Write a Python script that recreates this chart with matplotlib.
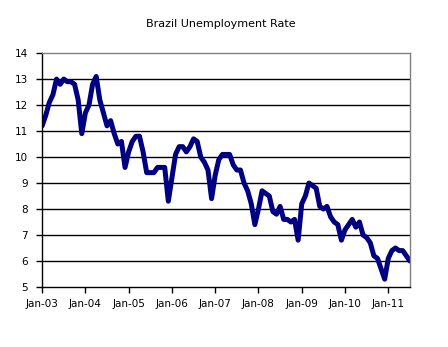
import numpy as np
import matplotlib
matplotlib.use("Agg")
from matplotlib import pyplot as plt

# monthly rate, Jan 2003 .. Jul 2011
rate_2003 = [11.2, 11.6, 12.1, 12.4, 13.0, 12.8, 13.0, 12.9, 12.9, 12.8, 12.2, 10.9]
rate_2004 = [11.7, 12.0, 12.8, 13.1, 12.2, 11.7, 11.2, 11.4, 10.9, 10.5, 10.6, 9.6]
rate_2005 = [10.2, 10.6, 10.8, 10.8, 10.2, 9.4, 9.4, 9.4, 9.6, 9.6, 9.6, 8.3]
rate_2006 = [9.2, 10.1, 10.4, 10.4, 10.2, 10.4, 10.7, 10.6, 10.0, 9.8, 9.5, 8.4]
rate_2007 = [9.3, 9.9, 10.1, 10.1, 10.1, 9.7, 9.5, 9.5, 9.0, 8.7, 8.2, 7.4]
rate_2008 = [8.0, 8.7, 8.6, 8.5, 7.9, 7.8, 8.1, 7.6, 7.6, 7.5, 7.6, 6.8]
rate_2009 = [8.2, 8.5, 9.0, 8.9, 8.8, 8.1, 8.0, 8.1, 7.7, 7.5, 7.4, 6.8]
rate_2010 = [7.2, 7.4, 7.6, 7.3, 7.5, 7.0, 6.9, 6.7, 6.2, 6.1, 5.7, 5.3]
rate_2011 = [6.1, 6.4, 6.5, 6.4, 6.4, 6.2, 6.0]

tick_labels = ['Jan-03', 'Jan-04', 'Jan-05', 'Jan-06', 'Jan-07',
               'Jan-08', 'Jan-09', 'Jan-10', 'Jan-11']
y_ticks = [5, 6, 7, 8, 9, 10, 11, 12, 13, 14]

rate = (rate_2003 + rate_2004 + rate_2005 + rate_2006 + rate_2007 +
        rate_2008 + rate_2009 + rate_2010 + rate_2011)
months = np.arange(len(rate))

fig = plt.figure(figsize=(4.48, 3.47), dpi=100)
ax = fig.add_axes([0.094, 0.173, 0.821, 0.674])

# horizontal gridlines (top one is the grey plot border)
for y in y_ticks[1:-1]:
    ax.axhline(y, color='black', lw=1.0, zorder=1)

ax.plot(months, rate, color='#000080', lw=3.6, solid_joinstyle='round',
        solid_capstyle='round', zorder=3)

ax.set_xlim(0, len(rate) - 1)
ax.set_ylim(5, 14)
ax.set_yticks(y_ticks)
ax.set_xticks(np.arange(0, len(rate), 12))
ax.set_xticklabels(tick_labels)

ax.spines['top'].set_color('#808080')
ax.spines['right'].set_color('#808080')
ax.spines['left'].set_color('black')
ax.spines['bottom'].set_color('black')
for s in ax.spines.values():
    s.set_linewidth(1.0)
    s.set_zorder(4)

ax.tick_params(axis='both', labelsize=7.5, length=4, width=1, direction='out',
               colors='black')
ax.tick_params(axis='y', pad=6)
ax.tick_params(axis='x', pad=5)

fig.text(0.494, 0.93, 'Brazil Unemployment Rate', ha='center', va='center',
         fontsize=8)

fig.savefig('out.png', dpi=100)
